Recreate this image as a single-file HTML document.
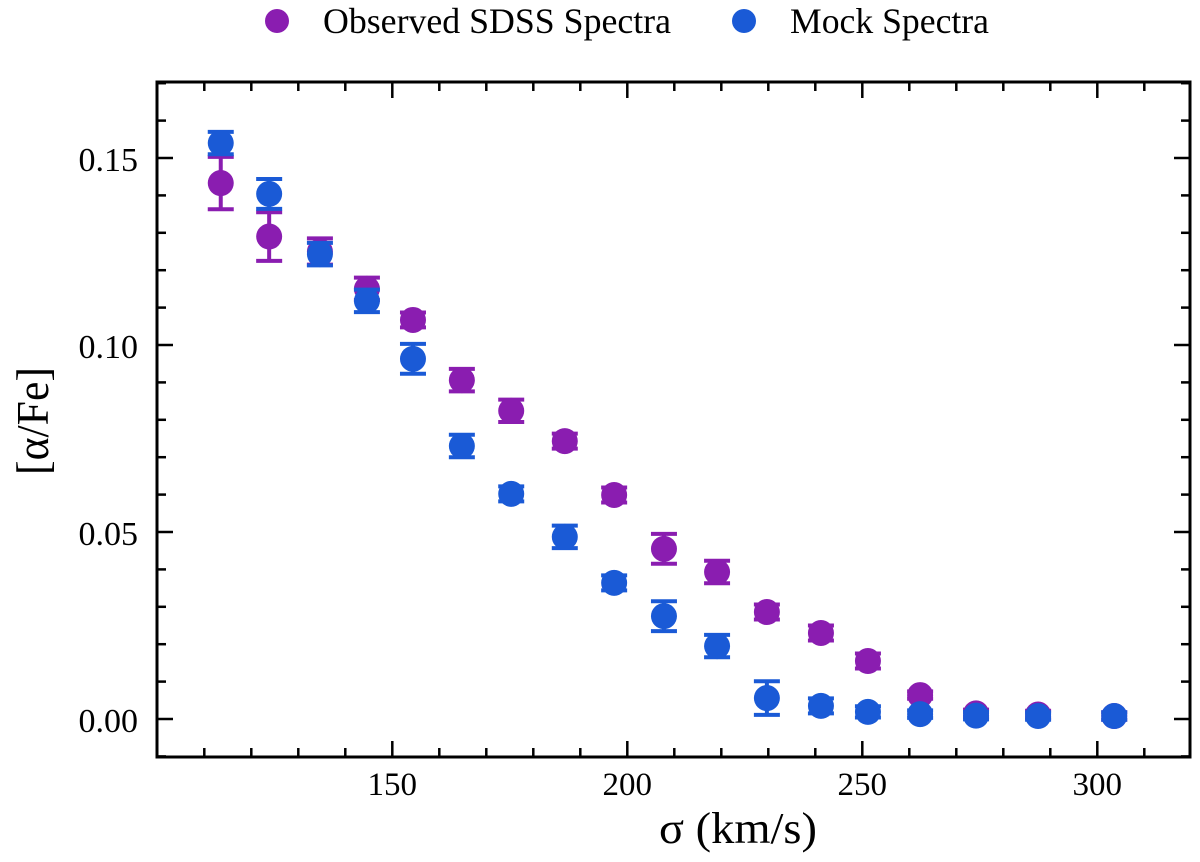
<!DOCTYPE html>
<html><head><meta charset="utf-8"><style>
body{margin:0;background:#fff;}
svg text{font-family:"Liberation Serif",serif;fill:#000;}
</style></head><body>
<svg id="c" width="1200" height="857" xmlns="http://www.w3.org/2000/svg">
<g>
<circle cx="277" cy="21" r="12" fill="#8a1db0"/>
<text x="323" y="33" font-size="36" textLength="348" lengthAdjust="spacingAndGlyphs">Observed SDSS Spectra</text>
<circle cx="744" cy="21" r="12" fill="#1a5ad6"/>
<text x="790" y="33" font-size="36" textLength="199" lengthAdjust="spacingAndGlyphs">Mock Spectra</text>
</g>
<text x="738" y="843" font-size="44" text-anchor="middle" textLength="158" lengthAdjust="spacingAndGlyphs">σ (km/s)</text>
<text transform="translate(48,421) rotate(-90)" font-size="45" text-anchor="middle" textLength="108" lengthAdjust="spacingAndGlyphs">[α/Fe]</text>
<g id="ax"></g>
<g id="marks"></g>
<rect x="157" y="82" width="1033" height="675" fill="none" stroke="#000" stroke-width="3"/>
</svg>
<script>
const sigma=[113.5,123.8,134.6,144.6,154.4,164.8,175.3,186.7,197.2,207.8,219.1,229.7,241.2,251.2,262.3,274.2,287.4,303.6];
const obsVals=[0.1433,0.129,0.125,0.115,0.1067,0.0906,0.0824,0.0743,0.0599,0.0455,0.0393,0.0286,0.023,0.0155,0.0064,0.0015,0.0012,0.0008];
const obsErr=[0.007,0.0065,0.0035,0.003,0.002,0.003,0.003,0.002,0.002,0.004,0.003,0.002,0.002,0.002,0.001,0.001,0.001,0.001];
const mockVals=[0.154,0.1404,0.1243,0.1118,0.0963,0.073,0.0602,0.0487,0.0364,0.0275,0.0195,0.0056,0.0035,0.0019,0.0013,0.0009,0.0008,0.0008];
const mockErr=[0.003,0.004,0.003,0.003,0.004,0.003,0.002,0.003,0.002,0.004,0.003,0.0045,0.002,0.0015,0.001,0.001,0.001,0.001];
const xTicks=[150,200,250,300];
const yTicks=[0,0.05,0.10,0.15];
const yTickLabels=["0.00","0.05","0.10","0.15"];
const NS="http://www.w3.org/2000/svg";
const L=157,R=1190,T=82,B=757;
function X(v){return 392.3+(v-150)*4.70;}
function Y(v){return 719-v*3740;}
function mk(t,a,p){const e=document.createElementNS(NS,t);for(const k in a)e.setAttribute(k,a[k]);p.appendChild(e);return e;}
const ax=document.getElementById('ax');
for(let v=110;v<=310;v+=10){
 const maj=v%50===0, len=maj?16:9, x=X(v);
 const t1=mk('line',{x1:x,x2:x,y1:B,y2:B-len,stroke:'#000','stroke-width':2.5},ax);
 
 
 const t2=mk('line',{x1:x,x2:x,y1:T,y2:T+len,stroke:'#000','stroke-width':2.5},ax);
 
 
}
xTicks.forEach(v=>{
 const t=mk('text',{x:X(v),y:795,'font-size':33,'text-anchor':'middle'},ax);t.textContent=v;
 
 
});
for(let i=-1;i<=17;i++){
 const v=i/100, y=Y(v); if(y<T||y>B)continue;
 const maj=i%5===0, len=maj?16:9;
 const a=mk('line',{x1:L,x2:L+len,y1:y,y2:y,stroke:'#000','stroke-width':2.5},ax);
 
 
 const b=mk('line',{x1:R,x2:R-len,y1:y,y2:y,stroke:'#000','stroke-width':2.5},ax);
 
 
}
yTicks.forEach((v,i)=>{
 const t=mk('text',{x:138,y:Y(v)+13,'font-size':34,'text-anchor':'end'},ax);t.textContent=yTickLabels[i];
 
 
});
const marks=document.getElementById('marks');
function series(vals,errs,col,name){
 const g=mk('g',{},marks);
 
 
 vals.forEach((v,i)=>{
  const x=X(sigma[i]),y0=Y(v+errs[i]),y1=Y(v-errs[i]);
  const e=mk('path',{d:`M${x},${y0}V${y1}M${x-13},${y0}H${x+13}M${x-13},${y1}H${x+13}`,stroke:col,'stroke-width':4,fill:'none'},g);
  
  
  const c=mk('circle',{cx:x,cy:Y(v),r:13,fill:col},g);
  
  
 });
}
series(obsVals,obsErr,'#8a1db0','observed');
series(mockVals,mockErr,'#1a5ad6','mock');
</script>
</body></html>
